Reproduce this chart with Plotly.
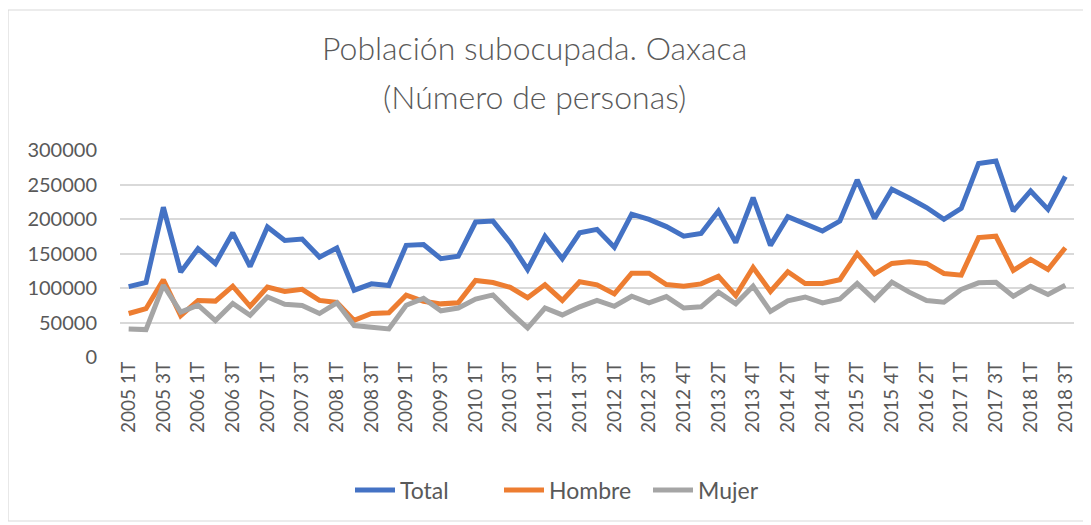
import plotly.graph_objects as go

categories = (
    [f"{y} {q}T" for y in range(2005, 2012) for q in range(1, 5)]
    + ["2012 1T", "2012 2T", "2012 3T", "2012 3T (b)", "2012 4T"]
    + [f"{y} {q}T" for y in range(2013, 2016) for q in range(1, 5)]
    + ["2016 1T", "2016 2T", "2016 3T"]
    + ["2017 1T", "2017 2T", "2017 3T", "2017 4T", "2018 1T", "2018 2T", "2018 3T"]
)

total = [102000, 108000, 217000, 123000, 157000, 135500, 180000, 131000, 188500, 169000,
         171000, 144800, 158000, 96800, 106000, 103600, 161800, 163000, 142400, 146000,
         195600, 197000, 165700, 126900, 174800, 142400, 180000, 185000, 159000, 207000,
         199500, 189000, 175000, 179000, 211600, 165700, 231000, 161800, 203500, 193000,
         182600, 197000, 256700, 200600, 243000, 230500, 216600, 199600, 215500, 280500,
         284000, 211600, 240700, 214000, 261600]

hombre = [63000, 70000, 112000, 60000, 82000, 81000, 102600, 73500, 101500, 95000,
          98000, 82000, 79000, 53000, 63000, 64000, 89500, 80800, 77000, 78500,
          111000, 108000, 101000, 86000, 104600, 82000, 109000, 104600, 91500, 121500,
          121500, 105000, 102600, 106000, 117000, 89000, 129800, 95000, 123500, 106500,
          106500, 112000, 149700, 120600, 135600, 138000, 135600, 121000, 118600, 173000,
          175000, 125400, 141400, 126900, 158400]

mujer = [40700, 39700, 104000, 65000, 75000, 52800, 77500, 60500, 87000, 76500,
         74600, 63000, 78500, 45500, 43000, 40700, 75000, 85000, 67000, 71000,
         84000, 90000, 65000, 42000, 71000, 61000, 72700, 82000, 73500, 88000,
         78500, 87600, 71000, 72700, 94000, 77000, 102600, 66000, 81400, 87000,
         78500, 84000, 106500, 83000, 108400, 94000, 81800, 79400, 97800, 107500,
         108400, 88000, 102600, 90500, 104000]

series = [("Total", total, "#4472C4"), ("Hombre", hombre, "#ED7D31"), ("Mujer", mujer, "#A5A5A5")]
title_lines = ["Población subocupada. Oaxaca", "(Número de personas)"]
y_ticks = [0, 50000, 100000, 150000, 200000, 250000, 300000]

FONT = "Lato"
TXT = "#595959"

fig = go.Figure()
for name, vals, col in series:
    fig.add_trace(go.Scatter(x=categories, y=vals, name=name, mode="lines",
                             line=dict(color=col, width=5)))

# page has an 8px body margin: the figure is drawn from (8, 8)
OFF = 8
W, H = 1083, 517
L, T = 120 - OFF, 150 - OFF
R = W - (1074 - OFF)
B = H - (357 - OFF)
ph = H - T - B
pw = W - L - R


def py(ref_px):
    return (H - B - (ref_px - OFF)) / ph


def pxx(ref_px):
    return (ref_px - OFF - L) / pw


annotations = []
for txt, xpix, ypix in zip(title_lines, [534, 534], [47, 96]):
    annotations.append(dict(text=txt, xref="paper", yref="paper", x=pxx(xpix), y=py(ypix),
                            xanchor="center", yanchor="middle", showarrow=False,
                            font=dict(family=FONT, size=32, color=TXT, weight=300)))

fig.update_layout(
    width=W, height=H,
    margin=dict(l=L, r=R, t=T, b=B),
    paper_bgcolor="white", plot_bgcolor="white",
    font=dict(family=FONT, color=TXT, size=20),
    annotations=annotations,
    showlegend=True,
    legend=dict(orientation="h", x=pxx(350), xanchor="left", y=py(490), yanchor="middle",
                font=dict(family=FONT, size=23, color=TXT), itemwidth=40,
                entrywidth=94, entrywidthmode="pixels",
                bgcolor="rgba(0,0,0,0)"),
    xaxis=dict(type="category", categoryorder="array", categoryarray=categories,
               range=[-0.5, len(categories) - 0.5],
               tickmode="array", tickvals=categories[::2], ticktext=categories[::2],
               tickangle=-90, tickfont=dict(family=FONT, size=19, color=TXT),
               showgrid=False, showline=False, ticks="", zeroline=False),
    yaxis=dict(range=[0, 300000], tickmode="array", tickvals=y_ticks,
               ticktext=[str(v) for v in y_ticks],
               tickfont=dict(family=FONT, size=20, color=TXT),
               showgrid=True, gridcolor="#D9D9D9", gridwidth=1.5,
               zeroline=False, showline=False, ticks="", ticklabelstandoff=22),
    shapes=[dict(type="rect", xref="paper", yref="paper",
                 x0=pxx(8), x1=pxx(1084), y0=py(521), y1=py(10),
                 line=dict(color="#D9D9D9", width=1.2), fillcolor="rgba(0,0,0,0)", layer="below")],
)

fig.write_html("out.html")
